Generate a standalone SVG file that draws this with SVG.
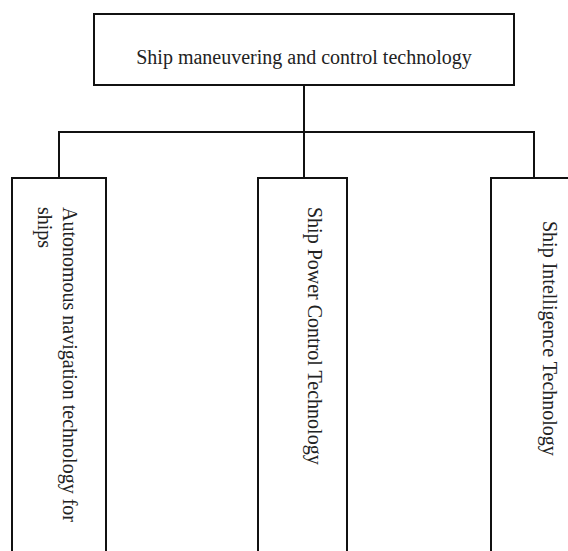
<svg xmlns="http://www.w3.org/2000/svg" width="568" height="551" viewBox="0 0 568 551">
  <style>
    .box { fill: #ffffff; stroke: #111111; stroke-width: 2; }
    .link { fill: none; stroke: #111111; stroke-width: 2; }
    .label { font-family: "Liberation Serif", "Times New Roman", serif; font-size: 20px; fill: #222222; }
  </style>
  <rect width="568" height="551" fill="#ffffff"/>

  <!-- tree connectors -->
  <g id="connectors">
    <path class="link" d="M304,85 V178"/>
    <path class="link" d="M59,178 V132 H534 V178"/>
  </g>

  <!-- root -->
  <g id="root">
    <rect class="box" x="94" y="14" width="420" height="71"/>
    <text class="label" x="304" y="64" text-anchor="middle">Ship maneuvering and control technology</text>
  </g>

  <!-- child nodes with vertical labels -->
  <g id="autonomous-navigation">
    <rect class="box" x="12" y="178" width="94" height="390"/>
    <text class="label" transform="translate(63,207) rotate(90)">Autonomous navigation technology for</text>
    <text class="label" transform="translate(38,207) rotate(90)">ships</text>
  </g>

  <g id="power-control">
    <rect class="box" x="258" y="178" width="89" height="390"/>
    <text class="label" transform="translate(308,207) rotate(90)">Ship Power Control Technology</text>
  </g>

  <g id="intelligence">
    <rect class="box" x="491" y="178" width="100" height="390"/>
    <text class="label" transform="translate(543,221) rotate(90)">Ship Intelligence Technology</text>
  </g>
</svg>
